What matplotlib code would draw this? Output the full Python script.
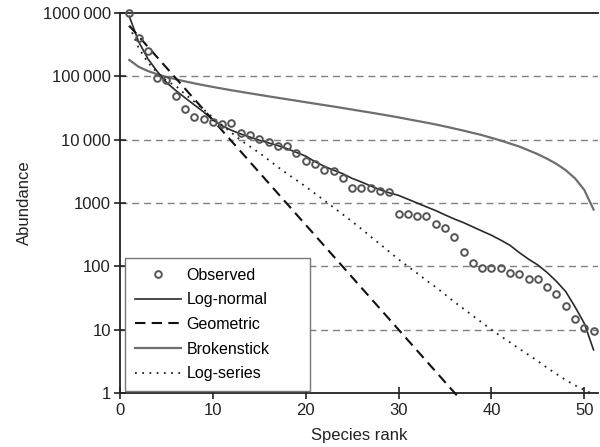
import matplotlib
matplotlib.use("Agg")
import matplotlib.pyplot as plt
from matplotlib.ticker import FixedLocator, NullLocator

plt.rcParams['font.family'] = ['Liberation Sans', 'DejaVu Sans']

# species ranks 1..51
ranks = list(range(1, 52))

observed = [1000000, 400000, 250000, 93000, 87000, 49000, 30000, 23000, 21000, 19000,
            18000, 18500, 12600, 11700, 10100, 9300, 8000, 8000, 6200, 4600,
            4100, 3300, 3200, 2500, 1700, 1700, 1700, 1570, 1490, 665,
            660, 624, 624, 470, 400, 288, 170, 112, 95, 95,
            93, 78, 76, 62, 62, 47, 37, 24, 15, 10.7, 9.5]

log_normal = [890000, 355000, 190000, 120000, 80000, 60000, 46000, 35500, 27500, 20500,
              16600, 14100, 12300, 11000, 9800, 8900, 8100, 7200, 6300, 5500,
              4500, 3800, 3300, 2900, 2450, 2150, 1860, 1620, 1450, 1320,
              1150, 1000, 870, 760, 650, 560, 490, 420, 360, 310,
              260, 215, 165, 130, 105, 80, 58, 40, 23, 12.6, 4.8]

brokenstick = [182000, 141800, 121700, 108200, 98200, 90100, 83400, 77600, 72600, 68100,
               64100, 60400, 57100, 54000, 51100, 48400, 45900, 43500, 41300, 39100,
               37100, 35200, 33400, 31600, 29900, 28300, 26800, 25300, 23900, 22500,
               21100, 19800, 18600, 17400, 16200, 15000, 13900, 12800, 11800, 10700,
               9700, 8700, 7800, 6800, 5900, 5000, 4150, 3300, 2460, 1610, 790]

log_series = [630000, 282000, 166000, 115000, 85000, 70800, 52500, 39800, 30200, 22400,
              17000, 12900, 9800, 7800, 6200, 4800, 3700, 2900, 2300, 1820,
              1410, 1100, 850, 660, 510, 390, 295, 225, 170, 129,
              100, 78, 60, 47, 36, 27.5, 21.4, 16.6, 12.9, 10,
              7.9, 6.3, 5.0, 4.0, 3.2, 2.5, 2.0, 1.6, 1.32, 1.12, 0.95]

# geometric model is a straight line on the log axis
geom_ranks = [1, 36.7]
geometric = [630000, 0.78]

y_ticks = [1, 10, 100, 1000, 10000, 100000, 1000000]
y_tick_labels = ['1', '10', '100', '1000', '10\u2009000', '100\u2009000', '1000\u2009000']
x_ticks = [0, 10, 20, 30, 40, 50]

fig = plt.figure(figsize=(6, 4.47), dpi=100)
ax = fig.add_axes([0.2, 0.1208, 0.797, 0.85])

for y in y_ticks[1:-1]:
    ax.axhline(y, color='#808080', lw=1.0, ls=(0, (5, 3.5)), zorder=1)

ax.plot(ranks, observed, 'o', mfc='none', mec='#555555', mew=1.4, ms=4.8,
        label='Observed', clip_on=False, zorder=5)
ax.plot(ranks, log_normal, '-', color='#2a2a2a', lw=1.2, label='Log-normal', zorder=4)
ax.plot(geom_ranks, geometric, color='#111111', lw=1.5, ls=(0, (5, 3)),
        label='Geometric', clip_on=False, zorder=4)
ax.plot(ranks, brokenstick, '-', color='#6e6e6e', lw=1.6, label='Brokenstick', zorder=3)
ax.plot(ranks, log_series, color='#222222', lw=1.3, ls=(0, (1, 3)), label='Log-series', zorder=4)

ax.set_yscale('log')
ax.set_ylim(1, 1000000)
ax.set_xlim(0, 51.5)
ax.yaxis.set_major_locator(FixedLocator(y_ticks))
ax.set_yticklabels(y_tick_labels)
ax.yaxis.set_minor_locator(NullLocator())
ax.set_xticks(x_ticks)

ax.spines['right'].set_visible(False)
for s in ['left', 'bottom', 'top']:
    ax.spines[s].set_linewidth(1.3)
    ax.spines[s].set_color('#222222')
ax.tick_params(axis='both', direction='inout', length=9, width=1.2, colors='#222222',
               labelsize=12, labelcolor='#222222')
ax.tick_params(axis='y', pad=2)
ax.tick_params(axis='x', pad=3)

ax.set_xlabel('Species rank', fontsize=12, color='#222222', labelpad=7)
ax.set_ylabel('Abundance', fontsize=12, color='#222222', labelpad=8)

leg = ax.legend(loc='lower left', bbox_to_anchor=(0.0105, 0.006, 0.387, 0.3),
                mode='expand', borderaxespad=0,
                fontsize=11.5, handlelength=2.9, labelspacing=0.6, handletextpad=0.35,
                fancybox=False, framealpha=1, edgecolor='#777777', borderpad=0.6)
leg.get_frame().set_linewidth(1.0)
leg.set_zorder(10)

fig.savefig('out.png', dpi=100)
